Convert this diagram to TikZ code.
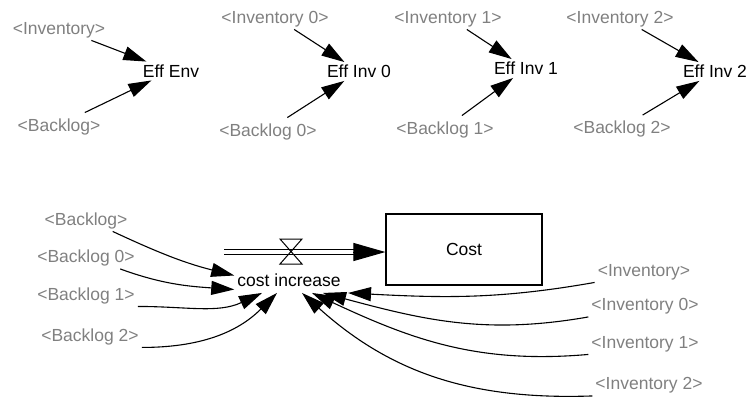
\documentclass[tikz,border=0pt]{standalone}
\usepackage{fontspec}
\setmainfont{Liberation Sans}
\usepackage{xcolor}
\usepackage{tikz}
\usetikzlibrary{arrows.meta,positioning,calc}
\definecolor{shadowgray}{RGB}{128,128,128}

\begin{document}
\begin{tikzpicture}[
    x=1pt, y=1pt,
    font=\fontsize{17.5}{21}\selectfont,
    every node/.style={text height=12.5pt, text depth=0pt},
    shadowvar/.style={text=shadowgray, inner xsep=3pt, inner ysep=6pt},
    auxvar/.style={inner xsep=3pt, inner ysep=3pt},
    rate/.style={inner xsep=3pt, inner ysep=6pt},
    stock/.style={rectangle, draw, line width=1.2pt, minimum width=156pt, minimum height=71pt},
    link/.style={line width=1.1pt, -{Triangle[length=23pt,width=14pt]}},
    pipe/.style={double, double distance=4.5pt, line width=1pt},
    flowtip/.style={line width=1pt, -{Triangle[length=32pt,width=18pt]}},
    valve/.style={line width=1pt}
]
    \useasboundingbox (0,0) rectangle (750,400);

    \node[shadowvar] (inv) at (59,372) {<Inventory>};
    \node[auxvar] (effenv) at (171,329) {Eff Env};
    \node[shadowvar] (back) at (59,275) {<Backlog>};
    \node[shadowvar] (inv0) at (275,383) {<Inventory 0>};
    \node[auxvar] (effinv0) at (359,328.5) {Eff Inv 0};
    \node[shadowvar] (back0) at (268,270) {<Backlog 0>};
    \node[shadowvar] (inv1) at (448,383) {<Inventory 1>};
    \node[auxvar] (effinv1) at (526,331.5) {Eff Inv 1};
    \node[shadowvar] (back1) at (445,272) {<Backlog 1>};
    \node[shadowvar] (inv2) at (620,383) {<Inventory 2>};
    \node[auxvar] (effinv2) at (715,328.5) {Eff Inv 2};
    \node[shadowvar] (back2) at (622,272.5) {<Backlog 2>};

    \draw[link] (inv) -- (effenv);
    \draw[link] (back) -- (effenv);
    \draw[link] (inv0) -- (effinv0);
    \draw[link] (back0) -- (effinv0);
    \draw[link] (inv1) -- (effinv1);
    \draw[link] (back1) -- (effinv1);
    \draw[link] (inv2) -- (effinv2);
    \draw[link] (back2) -- (effinv2);

    % cost stock and its inflow
    \node[stock] (cost) at (464,150.5) {Cost};
    \node[rate] (costinc) at (289,119.5) {cost increase};
    \coordinate (source) at (224,148);
    \coordinate (sink) at (cost.west |- source);
    \coordinate (valve) at (291,148.5);
    \draw[pipe] (source) -- ([xshift=-30pt]sink);
    \draw[flowtip] ([xshift=-32pt]sink) -- (sink);
    \draw[valve] (valve) ++(-11,12.5) -- ++(22,0) -- ++(-22,-25) -- ++(22,0) -- cycle;

    \node[shadowvar] (cback) at (86,181) {<Backlog>};
    \node[shadowvar] (cback0) at (86,143.5) {<Backlog 0>};
    \node[shadowvar] (cback1) at (86,106) {<Backlog 1>};
    \node[shadowvar] (cback2) at (90,65) {<Backlog 2>};
    \node[shadowvar] (cinv) at (644,130) {<Inventory>};
    \node[shadowvar] (cinv0) at (645,95.5) {<Inventory 0>};
    \node[shadowvar] (cinv1) at (645,58) {<Inventory 1>};
    \node[shadowvar] (cinv2) at (649,16.5) {<Inventory 2>};

    \draw[link] (cback) to[out=-25,in=166] ([yshift=5pt]costinc.west);
    \draw[link] (cback0) to[out=-20,in=176] ([yshift=-9pt]costinc.west);
    \draw[link] (cback1.south east) to[out=0,in=-155] ([xshift=-27pt]costinc.south);
    \draw[link] (cback2.south east) to[out=0,in=-135] ([xshift=-12pt]costinc.south);
    \draw[link] (cinv.south west) to[out=190,in=-3] ([xshift=59pt]costinc.south);
    \draw[link] (cinv0.south west) to[out=190,in=-15] ([xshift=34pt]costinc.south);
    \draw[link] (cinv1.south west) to[out=185,in=-25] ([xshift=23pt]costinc.south);
    \draw[link] (cinv2.south west) to[out=182,in=-42] ([xshift=13pt]costinc.south);
\end{tikzpicture}
\end{document}
